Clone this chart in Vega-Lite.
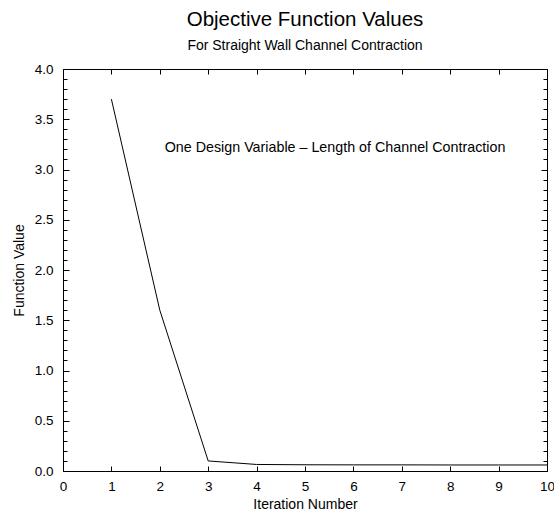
{
  "$schema": "https://vega.github.io/schema/vega-lite/v6.json",
  "width": 484,
  "height": 402,
  "autosize": {"type": "none"},
  "padding": {"left": 63, "top": 69, "right": 7, "bottom": 42},
  "background": "white",
  "config": {
    "font": "Liberation Sans",
    "view": {"stroke": "black", "strokeWidth": 1},
    "axis": {"grid": false, "domain": false, "tickColor": "black", "labelColor": "black", "titleColor": "black", "labelFont": "Liberation Sans", "titleFont": "Liberation Sans", "labelFontSize": 13.5, "titleFontSize": 14, "titleFontWeight": "normal", "tickWidth": 1}
  },
  "title": {
    "text": "Objective Function Values",
    "subtitle": "For Straight Wall Channel Contraction",
    "fontSize": 20.5,
    "fontWeight": "normal",
    "subtitleFontSize": 14,
    "subtitlePadding": 9,
    "color": "black",
    "subtitleColor": "black",
    "font": "Liberation Sans",
    "subtitleFont": "Liberation Sans",
    "anchor": "middle",
    "offset": 9
  },
  "layer": [
    {
      "data": {"values": [
        {"iter": 1, "value": 3.7},
        {"iter": 2, "value": 1.6},
        {"iter": 3, "value": 0.1},
        {"iter": 4, "value": 0.065},
        {"iter": 5, "value": 0.062},
        {"iter": 6, "value": 0.061},
        {"iter": 7, "value": 0.061},
        {"iter": 8, "value": 0.06},
        {"iter": 9, "value": 0.06},
        {"iter": 10, "value": 0.06}
      ]},
      "mark": {"type": "line", "color": "black", "strokeWidth": 1, "clip": true},
      "encoding": {
        "x": {"field": "iter", "type": "quantitative", "scale": {"domain": [0, 10], "nice": false, "zero": false},
          "axis": {"orient": "bottom", "title": "Iteration Number", "values": [0,1,2,3,4,5,6,7,8,9,10], "tickSize": -5, "labelPadding": 13, "titlePadding": 5, "labelFlush": false}},
        "y": {"field": "value", "type": "quantitative", "scale": {"domain": [0, 4], "nice": false},
          "axis": {"orient": "left", "title": "Function Value", "values": [0,0.1,0.2,0.3,0.4,0.5,0.6,0.7,0.8,0.9,1,1.1,1.2,1.3,1.4,1.5,1.6,1.7,1.8,1.9,2,2.1,2.2,2.3,2.4,2.5,2.6,2.7,2.8,2.9,3,3.1,3.2,3.3,3.4,3.5,3.6,3.7,3.8,3.9,4],
            "tickSize": {"condition": {"test": "round(datum.value*10) % 5 === 0", "value": -6}, "value": -4},
            "labelExpr": "round(datum.value*10) % 5 === 0 ? format(datum.value, '.1f') : ''",
            "labelPadding": 16, "titlePadding": 8, "labelFlush": false}}
      }
    },
    {
      "data": {"values": [
        {"iter": 5.62, "value": 3.21, "label": "One Design Variable – Length of Channel Contraction"}
      ]},
      "mark": {"type": "text", "color": "black", "fontSize": 14.3, "font": "Liberation Sans", "align": "center", "baseline": "middle"},
      "encoding": {
        "x": {"field": "iter", "type": "quantitative",
          "axis": {"orient": "top", "title": null, "labels": false, "values": [0,1,2,3,4,5,6,7,8,9,10], "tickSize": -5}},
        "y": {"field": "value", "type": "quantitative",
          "axis": {"orient": "right", "title": null, "labels": false, "values": [0,0.1,0.2,0.3,0.4,0.5,0.6,0.7,0.8,0.9,1,1.1,1.2,1.3,1.4,1.5,1.6,1.7,1.8,1.9,2,2.1,2.2,2.3,2.4,2.5,2.6,2.7,2.8,2.9,3,3.1,3.2,3.3,3.4,3.5,3.6,3.7,3.8,3.9,4],
            "tickSize": {"condition": {"test": "round(datum.value*10) % 5 === 0", "value": -6}, "value": -4}}},
        "text": {"field": "label"}
      }
    }
  ],
  "resolve": {"axis": {"x": "independent", "y": "independent"}}
}
